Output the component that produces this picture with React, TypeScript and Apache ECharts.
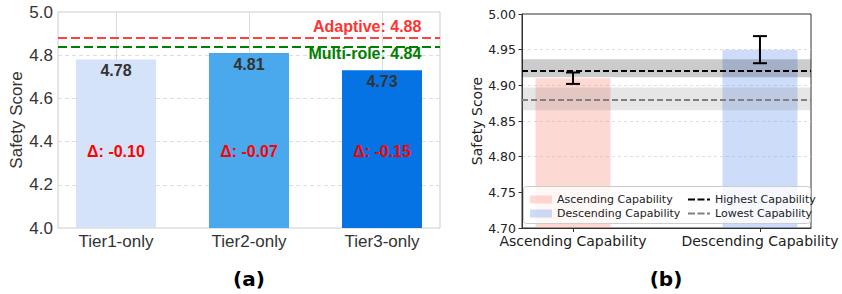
import React, { useEffect, useRef } from "react";
import * as echarts from "echarts";

// ---------- data: panel (a) ----------
const tierCategories = ["Tier1-only", "Tier2-only", "Tier3-only"];
const tierScores = [4.78, 4.81, 4.73];
const tierDeltas = [-0.1, -0.07, -0.15];
const adaptiveScore = 4.88;
const multiRoleScore = 4.84;

// ---------- data: panel (b) ----------
const orderCategories = ["Ascending Capability", "Descending Capability"];
const orderMeans = [4.91, 4.95];
const orderErrors = [0.008, 0.019];
const highestMean = 4.924;
const highestSpread = 0.0125;
const lowestMean = 4.881;
const lowestSpread = 0.016;

// ---------- styles ----------
const tierColors = ["#d5e3f8", "#4aa8ec", "#0673e4"];
const orderColors = ["rgba(250,128,114,0.3)", "rgba(100,149,237,0.33)"];
const SANS = "Liberation Sans";
const DEJAVU = "DejaVu Sans";
const DASH_ICON = "path://M0,0H7V2H0Z M9.5,0H16.5V2H9.5Z M19,0H22V2H19Z";

export default function App() {
  const ref = useRef<HTMLDivElement>(null);

  useEffect(() => {
    document.body.style.margin = "0";
    if (!ref.current) return;
    const chart = echarts.init(ref.current, null, { renderer: "svg" });

    const hiddenPoint = { color: "rgba(0,0,0,0)", opacity: 1 };

    const option: any = {
      animation: false,
      grid: [
        { left: 58, top: 12, width: 382, height: 216, show: true, borderColor: "#cccccc", borderWidth: 1, backgroundColor: "transparent" },
        { left: 522, top: 14, width: 289, height: 214, show: true, borderColor: "#333333", borderWidth: 1, backgroundColor: "transparent" },
      ],
      xAxis: [
        {
          gridIndex: 0,
          type: "value",
          min: -0.436,
          max: 2.436,
          axisLine: { show: false, onZero: false },
          axisTick: { show: false },
          splitLine: { show: false },
          axisLabel: {
            customValues: tierCategories.map((_, i) => i),
            formatter: (v: number) => tierCategories[Math.round(v)] ?? "",
            fontFamily: SANS,
            fontSize: 17,
            color: "#333333",
            margin: 5,
          },
        },
        {
          gridIndex: 1,
          type: "value",
          min: -0.273,
          max: 1.273,
          z: 5,
          axisLine: { show: true, onZero: false, lineStyle: { color: "#333333", width: 1 } },
          axisTick: { show: true, customValues: orderCategories.map((_, i) => i), length: 4, lineStyle: { color: "#333333" } },
          splitLine: { show: false },
          axisLabel: {
            customValues: orderCategories.map((_, i) => i),
            formatter: (v: number) => orderCategories[Math.round(v)] ?? "",
            fontFamily: DEJAVU,
            fontSize: 14,
            color: "#222222",
            margin: 6,
          },
        },
      ],
      yAxis: [
        {
          gridIndex: 0,
          type: "value",
          min: 4.0,
          max: 5.0,
          interval: 0.2,
          name: "Safety Score",
          nameLocation: "middle",
          nameRotate: 90,
          nameGap: 32,
          nameTextStyle: { fontFamily: SANS, fontSize: 17, color: "#333333" },
          axisLine: { show: false, onZero: false },
          axisTick: { show: false },
          splitLine: { show: true, showMinLine: false, showMaxLine: false, lineStyle: { color: "#dddddd", width: 1, type: [4, 3] } },
          axisLabel: { formatter: (v: number) => v.toFixed(1), fontFamily: SANS, fontSize: 17, color: "#333333", margin: 5 },
        },
        {
          gridIndex: 1,
          type: "value",
          min: 4.7,
          max: 5.0,
          interval: 0.05,
          name: "Safety Score",
          nameLocation: "middle",
          nameRotate: 90,
          nameGap: 37,
          nameTextStyle: { fontFamily: DEJAVU, fontSize: 14, color: "#222222" },
          axisLine: { show: true, onZero: false, lineStyle: { color: "#333333", width: 1 } },
          axisTick: { show: true, length: 3.5, lineStyle: { color: "#333333" } },
          splitLine: { show: true, showMinLine: false, showMaxLine: false, lineStyle: { color: "#d8d8d8", width: 0.8, type: [3, 3] } },
          axisLabel: { formatter: (v: number) => v.toFixed(2), fontFamily: DEJAVU, fontSize: 12.5, color: "#222222", margin: 6 },
        },
      ],
      legend: [
        {
          data: orderCategories,
          orient: "vertical",
          left: 525,
          top: 189,
          itemWidth: 22,
          itemHeight: 8,
          itemGap: 3,
          icon: "rect",
          selectedMode: false,
          z: 8,
          textStyle: { fontFamily: DEJAVU, fontSize: 11, color: "#222222" },
        },
        {
          data: ["Highest Capability", "Lowest Capability"],
          orient: "vertical",
          left: 683,
          top: 189,
          itemWidth: 22,
          itemHeight: 2,
          itemGap: 3,
          icon: DASH_ICON,
          selectedMode: false,
          z: 8,
          textStyle: { fontFamily: DEJAVU, fontSize: 11, color: "#222222" },
        },
      ],
      graphic: [
        {
          type: "rect",
          left: 523,
          top: 186,
          z: 7,
          shape: { width: 287, height: 37, r: 3 },
          style: { fill: "rgba(255,255,255,0.8)", stroke: "#cccccc", lineWidth: 1 },
        },
        {
          type: "text",
          x: 249,
          y: 279,
          z: 7,
          style: { text: "(a)", align: "center", verticalAlign: "middle", fontFamily: DEJAVU, fontWeight: "bold", fontSize: 20, fill: "#000000" },
        },
        {
          type: "text",
          x: 666,
          y: 279,
          z: 7,
          style: { text: "(b)", align: "center", verticalAlign: "middle", fontFamily: DEJAVU, fontWeight: "bold", fontSize: 20, fill: "#000000" },
        },
      ],
      series: [
        // ---- panel (a) ----
        {
          type: "line",
          xAxisIndex: 0,
          yAxisIndex: 0,
          data: [],
          silent: true,
          z: 1,
          markLine: {
            z: 1,
            silent: true,
            symbol: ["none", "none"],
            label: { show: false },
            lineStyle: { color: "#dddddd", width: 1, type: "solid" },
            data: tierCategories.map((_, i) => ({ xAxis: i })),
          },
        },
        {
          type: "bar",
          xAxisIndex: 0,
          yAxisIndex: 0,
          barWidth: 80,
          z: 2,
          data: tierScores.map((v, i) => ({ value: [i, v], itemStyle: { color: tierColors[i] } })),
          label: {
            show: true,
            position: "insideTop",
            distance: 3,
            formatter: (p: any) => p.value[1].toFixed(2),
            fontFamily: SANS,
            fontWeight: "bold",
            fontSize: 16,
            color: "#333333",
          },
        },
        {
          type: "line",
          xAxisIndex: 0,
          yAxisIndex: 0,
          data: [],
          silent: true,
          z: 4,
          markLine: {
            z: 4,
            silent: true,
            symbol: ["none", "none"],
            label: { show: false },
            data: [
              { yAxis: adaptiveScore, lineStyle: { color: "#ff4040", width: 2, type: [9, 4] } },
              { yAxis: multiRoleScore, lineStyle: { color: "#008000", width: 2, type: [9, 4] } },
            ],
          },
        },
        {
          type: "scatter",
          xAxisIndex: 0,
          yAxisIndex: 0,
          symbolSize: 1,
          itemStyle: hiddenPoint,
          silent: true,
          z: 5,
          data: tierDeltas.map((d, i) => [i, 4.355, d]),
          label: {
            show: true,
            position: "inside",
            formatter: (p: any) => "Δ: " + p.value[2].toFixed(2),
            fontFamily: SANS,
            fontWeight: "bold",
            fontSize: 16,
            color: "#ff0000",
            opacity: 1,
          },
        },
        {
          type: "scatter",
          xAxisIndex: 0,
          yAxisIndex: 0,
          symbolSize: 1,
          itemStyle: hiddenPoint,
          silent: true,
          z: 5,
          data: [
            { value: [2.3, 4.935], name: `Adaptive: ${adaptiveScore.toFixed(2)}`, label: { color: "#ff3333" } },
            { value: [2.3, 4.809], name: `Multi-role: ${multiRoleScore.toFixed(2)}`, label: { color: "#008000" } },
          ],
          label: {
            show: true,
            position: "left",
            distance: 0,
            formatter: (p: any) => p.name,
            fontFamily: SANS,
            fontWeight: "bold",
            fontSize: 16,
            opacity: 1,
          },
        },
        // ---- panel (b) ----
        ...orderCategories.map((name, i) => ({
          type: "bar",
          name,
          xAxisIndex: 1,
          yAxisIndex: 1,
          barWidth: 75,
          barGap: "-100%",
          z: 2,
          itemStyle: { color: orderColors[i] },
          data: [[i, orderMeans[i]]],
        })),
        {
          type: "line",
          name: "Highest Capability",
          xAxisIndex: 1,
          yAxisIndex: 1,
          data: [],
          symbol: "none",
          silent: true,
          z: 3,
          itemStyle: { color: "#000000" },
          lineStyle: { color: "#000000", width: 1.8, type: [6, 3] },
          markArea: {
            z: 3,
            silent: true,
            itemStyle: { color: "rgba(0,0,0,0.2)" },
            data: [[{ yAxis: highestMean - highestSpread }, { yAxis: highestMean + highestSpread }]],
          },
          markLine: {
            z: 4,
            silent: true,
            symbol: ["none", "none"],
            label: { show: false },
            lineStyle: { color: "#000000", width: 1.8, type: [6, 3] },
            data: [{ yAxis: highestMean }],
          },
        },
        {
          type: "line",
          name: "Lowest Capability",
          xAxisIndex: 1,
          yAxisIndex: 1,
          data: [],
          symbol: "none",
          silent: true,
          z: 3,
          itemStyle: { color: "#808080" },
          lineStyle: { color: "#808080", width: 1.8, type: [6, 3] },
          markArea: {
            z: 3,
            silent: true,
            itemStyle: { color: "rgba(128,128,128,0.2)" },
            data: [[{ yAxis: lowestMean - lowestSpread }, { yAxis: lowestMean + lowestSpread }]],
          },
          markLine: {
            z: 4,
            silent: true,
            symbol: ["none", "none"],
            label: { show: false },
            lineStyle: { color: "#808080", width: 1.8, type: [6, 3] },
            data: [{ yAxis: lowestMean }],
          },
        },
        {
          type: "custom",
          xAxisIndex: 1,
          yAxisIndex: 1,
          silent: true,
          z: 6,
          data: orderMeans.map((m, i) => [i, m, orderErrors[i]]),
          encode: { x: 0, y: 1 },
          renderItem: (params: any, api: any) => {
            const x = api.value(0);
            const m = api.value(1);
            const e = api.value(2);
            const top = api.coord([x, m + e]);
            const bot = api.coord([x, m - e]);
            const half = 7;
            const style = { stroke: "#000000", lineWidth: 2 };
            return {
              type: "group",
              children: [
                { type: "line", shape: { x1: top[0], y1: top[1], x2: bot[0], y2: bot[1] }, style },
                { type: "line", shape: { x1: top[0] - half, y1: top[1], x2: top[0] + half, y2: top[1] }, style },
                { type: "line", shape: { x1: bot[0] - half, y1: bot[1], x2: bot[0] + half, y2: bot[1] }, style },
              ],
            };
          },
        },
      ],
    };

    chart.setOption(option);
    return () => chart.dispose();
  }, []);

  return <div ref={ref} style={{ width: 842, height: 294 }} />;
}
